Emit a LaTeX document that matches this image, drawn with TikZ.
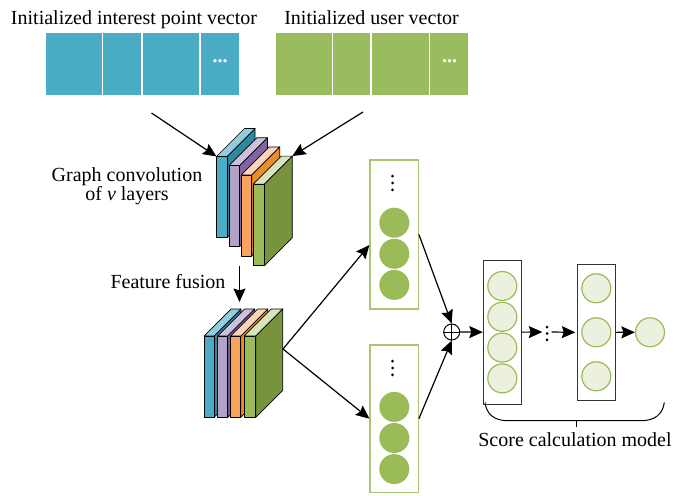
\documentclass[tikz,border=0pt]{standalone}
\usepackage{fontspec}
\setmainfont{Liberation Serif}
\usetikzlibrary{arrows.meta}
\definecolor{cblue}{HTML}{4BACC6}
\definecolor{cblueS}{HTML}{31859C}
\definecolor{cblueT}{HTML}{92CDDC}
\definecolor{cpur}{HTML}{B3A2C7}
\definecolor{cpurS}{HTML}{8064A2}
\definecolor{cpurT}{HTML}{CCC1DA}
\definecolor{cora}{HTML}{F8A45C}
\definecolor{coraS}{HTML}{F38B25}
\definecolor{coraT}{HTML}{FCD5B4}
\definecolor{cgrn}{HTML}{9BBB59}
\definecolor{cgrnS}{HTML}{77933C}
\definecolor{cgrnT}{HTML}{D7E4BD}
\definecolor{clight}{HTML}{EBF1DE}
\definecolor{barblue}{HTML}{4AACC5}
\definecolor{bargreen}{HTML}{9BBB5F}
\newcommand\mycube[8]{%
  \filldraw[fill=#7,edgeline] (#3,#2) -- ({#3+#5},{#2-#5}) -- ({#3+#5},{#4-#5}) -- (#3,#4) -- cycle;
  \filldraw[fill=#8,edgeline] (#1,#2) -- ({#1+#5},{#2-#5}) -- ({#3+#5},{#2-#5}) -- (#3,#2) -- cycle;
  \filldraw[fill=#6,edgeline] (#1,#2) rectangle (#3,#4);
}
\newcommand\myvdots[3]{% x y spacing
  \fill ({#1},{#2-#3}) circle (1.5pt);
  \fill ({#1},{#2}) circle (1.5pt);
  \fill ({#1},{#2+#3}) circle (1.5pt);
}
\begin{document}
\begin{tikzpicture}[x=1pt,y=-1pt,
  edgeline/.style={draw=black,line width=0.7pt,line join=round},
  arr/.style={-{Stealth[length=13.5pt,width=12pt,inset=2pt]},line width=1.2pt},
  lbl/.style={font=\fontsize{20}{18}\selectfont,inner sep=0pt,anchor=base},
  gcirc/.style={circle,fill=cgrn,draw=none,inner sep=0pt,minimum size=30pt},
  lcirc/.style={circle,fill=clight,draw=cgrn,line width=1.2pt,inner sep=0pt,minimum size=29pt},
  gbox/.style={draw=cgrn!85,line width=1.2pt,inner sep=0pt},
  sbox/.style={draw=black!80,line width=1pt,inner sep=0pt},
  celldots/.style={text=white,font=\fontsize{20}{20}\selectfont\bfseries,inner sep=0pt,anchor=base}]
\useasboundingbox (0,0) rectangle (674,495);
% titles
\node[lbl] (t1) at (134,25) {Initialized interest point vector};
\node[lbl] (t2) at (371.5,25) {Initialized user vector};
% bars
\fill[barblue] (45.7,32.7) rectangle (101.7,95);
\fill[barblue] (103.3,32.7) rectangle (141,95);
\fill[barblue] (142.7,32.7) rectangle (199.3,95);
\fill[barblue] (201,32.7) rectangle (239.3,95);
\node[celldots] (d1) at (220,62.5) {...};
\fill[bargreen] (275.7,32.7) rectangle (331.7,95);
\fill[bargreen] (333.3,32.7) rectangle (370.3,95);
\fill[bargreen] (372,32.7) rectangle (428.7,95);
\fill[bargreen] (430.4,32.7) rectangle (468.3,95);
\node[celldots] (d2) at (449.5,62.5) {...};
% graph convolution stack
\mycube{216.5}{156.5}{227}{237.5}{28}{cblue}{cblueS}{cblueT}
\mycube{228.9}{165.7}{239.4}{246.7}{28}{cpur}{cpurS}{cpurT}
\mycube{241.1}{174.9}{251.7}{255.9}{28}{cora}{coraS}{coraT}
\mycube{253.3}{184.1}{264.3}{265.7}{28}{cgrn}{cgrnS}{cgrnT}
% feature fusion stack
\mycube{204}{336}{214}{417.3}{27}{cblue}{cblueS}{cblueT}
\mycube{217.5}{336}{227.7}{417.3}{27}{cpur}{cpurS}{cpurT}
\mycube{230.7}{336}{240.8}{417.3}{27}{cora}{coraS}{coraT}
\mycube{244}{336}{255.7}{417.3}{27}{cgrn}{cgrnS}{cgrnT}
% labels
\node[lbl,align=center] (gc) at (127,200.5) {Graph convolution\\of \textit{v} layers};
\node[lbl] (ff) at (168,288.3) {Feature fusion};
\node[lbl] (sc) at (575,446.7) {Score calculation model};
% arrows into stacks
\coordinate (s1) at (151.5,113);
\coordinate (e1) at (216.5,156.5);
\coordinate (s2) at (363,112);
\coordinate (e2) at (292.3,156.1);
\coordinate (s3) at (239.5,266);
\coordinate (e3) at (239.5,302);
\coordinate (fz) at (283,349);
\draw[arr] (s1) -- (e1);
\draw[arr] (s2) -- (e2);
\draw[arr] (s3) -- (e3);
% embedding boxes
\node[gbox,minimum width=48.3pt,minimum height=149pt] (ub) at (394.15,234.5) {};
\node[gbox,minimum width=48.3pt,minimum height=147.3pt] (lb) at (394.15,418.65) {};
\node[gcirc] (u1) at (394.3,222.7) {};
\node[gcirc] (u2) at (394.3,253.8) {};
\node[gcirc] (u3) at (394.3,284.9) {};
\node[gcirc] (l1) at (394.3,406.9) {};
\node[gcirc] (l2) at (394.3,438) {};
\node[gcirc] (l3) at (394.3,469.1) {};
\myvdots{392.5}{183}{6.8}
\myvdots{392.5}{368}{6.8}
\draw[arr] (fz) -- ([yshift=-10.5pt]ub.west);
\draw[arr] (fz) -- (lb.west);
% oplus
\node[circle,draw,line width=1pt,minimum size=16pt,inner sep=0pt] (op) at (451.7,332) {};
\draw[line width=1pt] (op.north) -- (op.south) (op.west) -- (op.east);
\draw[arr] (ub.east) -- (op.north);
\draw[arr] (lb.east) -- (op.south);
% score model
\node[sbox,minimum width=37.7pt,minimum height=144.3pt] (b1) at (502.15,332.15) {};
\node[lcirc] (c11) at (502.3,286) {};
\node[lcirc] (c12) at (502.3,316.8) {};
\node[lcirc] (c13) at (502.3,347.6) {};
\node[lcirc] (c14) at (502.3,378.4) {};
\node[sbox,minimum width=38pt,minimum height=136.7pt] (b2) at (596.3,332.35) {};
\node[lcirc] (c21) at (596.3,288.3) {};
\node[lcirc] (c22) at (596.3,332.3) {};
\node[lcirc] (c23) at (596.3,376.3) {};
\node[lcirc] (out) at (650,332.3) {};
\node[inner sep=0pt,minimum width=9pt,minimum height=14pt] (vd) at (547,332) {};
\myvdots{547}{333.5}{6.3}
\draw[arr] (op.east) -- (b1.west);
\draw[arr] (b1.east) -- (vd.west);
\draw[arr] (vd.east) -- ([xshift=-1.5pt]b2.west);
\draw[arr] (b2.east) -- (out.west);
% brace
\draw[line width=1pt] (485,402.5) .. controls (486.5,414) and (494,420.7) .. (508,420.7) -- (641,420.7) .. controls (655,420.7) and (662.8,414) .. (664.3,402.5);
\coordinate (bt) at (576,420.7);
\coordinate (bb) at (576,427);
\draw[line width=1pt] (bt) -- (bb);
\end{tikzpicture}
\end{document}
